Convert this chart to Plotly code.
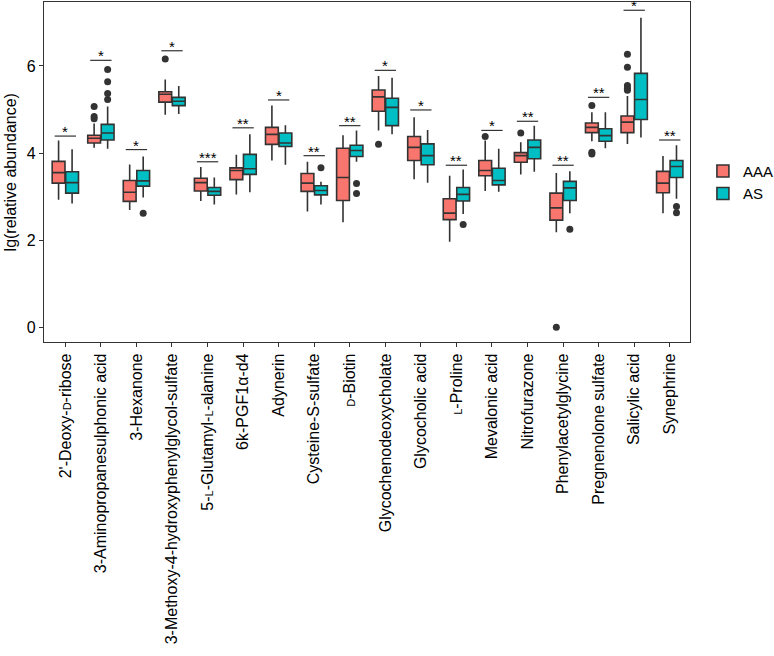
import plotly.graph_objects as go

SC = "<span style='font-size:11px'>{}</span>"
categories = [
    "2'-Deoxy-" + SC.format("D") + "-ribose",
    "3-Aminopropanesulphonic acid",
    "3-Hexanone",
    "3-Methoxy-4-hydroxyphenylglycol-sulfate",
    "5-" + SC.format("L") + "-Glutamyl-" + SC.format("L") + "-alanine",
    "6k-PGF1α-d4",
    "Adynerin",
    "Cysteine-S-sulfate",
    SC.format("D") + "-Biotin",
    "Glycochenodeoxycholate",
    "Glycocholic acid",
    SC.format("L") + "-Proline",
    "Mevalonic acid",
    "Nitrofurazone",
    "Phenylacetylglycine",
    "Pregnenolone sulfate",
    "Salicylic acid",
    "Synephrine",
]

# AAA group box statistics
aaa_low = [2.93, 4.12, 2.69, 4.88, 2.90, 3.05, 3.83, 2.66, 2.41, 4.52, 3.40, 1.96, 3.13, 3.51, 2.18, 4.27, 4.21, 2.62]
aaa_q1 = [3.31, 4.23, 2.89, 5.17, 3.13, 3.39, 4.20, 3.12, 2.91, 4.96, 3.83, 2.47, 3.48, 3.79, 2.46, 4.47, 4.47, 3.09]
aaa_med = [3.55, 4.34, 3.10, 5.35, 3.32, 3.60, 4.43, 3.31, 3.44, 5.29, 4.13, 2.62, 3.60, 3.94, 2.74, 4.59, 4.71, 3.31]
aaa_q3 = [3.81, 4.41, 3.37, 5.41, 3.42, 3.66, 4.59, 3.53, 4.11, 5.45, 4.38, 2.95, 3.83, 4.01, 3.08, 4.69, 4.85, 3.58]
aaa_high = [4.29, 4.68, 3.74, 5.69, 3.68, 3.96, 5.09, 3.80, 4.41, 5.77, 4.82, 3.48, 4.29, 4.25, 3.54, 4.94, 5.31, 3.93]

# AS group box statistics
as_low = [2.84, 4.10, 2.98, 4.90, 2.82, 3.10, 3.73, 2.82, 3.80, 4.43, 3.32, 2.60, 3.11, 3.57, 2.62, 4.11, 4.36, 2.95]
as_q1 = [3.08, 4.30, 3.24, 5.09, 3.03, 3.51, 4.15, 3.04, 3.92, 4.63, 3.73, 2.90, 3.27, 3.87, 2.91, 4.27, 4.77, 3.44]
as_med = [3.32, 4.46, 3.36, 5.19, 3.12, 3.64, 4.23, 3.14, 4.06, 5.05, 3.94, 3.05, 3.37, 4.13, 3.20, 4.40, 5.23, 3.69]
as_q3 = [3.57, 4.66, 3.60, 5.28, 3.21, 3.97, 4.46, 3.25, 4.18, 5.26, 4.21, 3.21, 3.65, 4.30, 3.35, 4.56, 5.83, 3.83]
as_high = [4.09, 5.07, 3.92, 5.54, 3.44, 4.43, 4.64, 3.34, 4.52, 5.73, 4.53, 3.62, 4.10, 4.63, 3.58, 4.94, 7.11, 4.18]

# outliers (category index, value)
aaa_out_cat = [1, 1, 1, 3, 9, 12, 13, 14, 15, 15, 15, 16, 16, 16, 16, 16]
aaa_out_val = [5.07, 4.84, 4.79, 6.16, 4.20, 4.38, 4.46, 0.0, 5.09, 4.02, 3.98, 6.27, 5.97, 5.55, 5.49, 5.44]
as_out_cat = [1, 1, 1, 1, 2, 7, 8, 8, 11, 14, 17, 17]
as_out_val = [5.92, 5.64, 5.37, 5.23, 2.62, 3.66, 3.30, 3.07, 2.36, 2.25, 2.77, 2.63]

# significance brackets
sig_y = [4.39, 6.13, 4.08, 6.35, 3.80, 4.58, 5.22, 3.94, 4.63, 5.90, 4.99, 3.72, 4.52, 4.73, 3.72, 5.28, 7.28, 4.30]
sig_label = ["*", "*", "*", "*", "***", "**", "*", "**", "**", "*", "*", "**", "*", "**", "**", "**", "*", "**"]

y_ticks = [0, 2, 4, 6]

RED = "#F8766D"
CYAN = "#00BFC4"
DARK = "#333333"
DODGE = 0.19
FONT = "Liberation Sans, Arial, sans-serif"

idx = list(range(len(categories)))
fig = go.Figure()

fig.add_trace(go.Box(
    name="AAA", x=[i - DODGE for i in idx],
    q1=aaa_q1, median=aaa_med, q3=aaa_q3, lowerfence=aaa_low, upperfence=aaa_high,
    width=0.36, fillcolor=RED, line=dict(color=DARK, width=1.6),
    boxpoints=False, whiskerwidth=0, legendgroup="AAA",
))
fig.add_trace(go.Box(
    name="AS", x=[i + DODGE for i in idx],
    q1=as_q1, median=as_med, q3=as_q3, lowerfence=as_low, upperfence=as_high,
    width=0.36, fillcolor=CYAN, line=dict(color=DARK, width=1.6),
    boxpoints=False, whiskerwidth=0, legendgroup="AS",
))
fig.add_trace(go.Scatter(
    x=[c - DODGE for c in aaa_out_cat], y=aaa_out_val, mode="markers",
    marker=dict(color=DARK, size=7), showlegend=False, hoverinfo="skip",
))
fig.add_trace(go.Scatter(
    x=[c + DODGE for c in as_out_cat], y=as_out_val, mode="markers",
    marker=dict(color=DARK, size=7), showlegend=False, hoverinfo="skip",
))

for i, (yv, lab) in enumerate(zip(sig_y, sig_label)):
    fig.add_shape(type="line", x0=i - 0.3, x1=i + 0.3, y0=yv, y1=yv,
                  line=dict(color=DARK, width=1.2))
    fig.add_annotation(x=i, y=yv, text=lab, showarrow=False, yanchor="bottom",
                       yshift=-6, font=dict(size=15, color="black", family=FONT))

fig.add_annotation(x=-0.052, y=0.5, xref="paper", yref="paper", text="lg(relative abundance)",
                   textangle=-90, showarrow=False, xanchor="center", yanchor="middle",
                   font=dict(size=16, color="black", family=FONT))

fig.update_xaxes(
    range=[-0.6, 17.57], tickmode="array", tickvals=idx, ticktext=categories,
    tickangle=-90, ticks="outside", ticklen=4, tickcolor=DARK, showgrid=False, zeroline=False,
    showline=True, linecolor=DARK, linewidth=1.2, mirror=True,
    tickfont=dict(size=16, color="black", family=FONT),
)
fig.update_yaxes(
    range=[-0.34, 7.47], tickmode="array", tickvals=y_ticks, ticktext=[str(t) for t in y_ticks],
    ticks="outside", ticklen=4, tickcolor=DARK, showgrid=False, zeroline=False,
    showline=True, linecolor=DARK, linewidth=1.2, mirror=True,
    tickfont=dict(size=16, color="black", family=FONT),
)
fig.update_layout(
    width=774, height=656,
    margin=dict(l=44, r=84, t=2, b=314, autoexpand=False),
    plot_bgcolor="white", paper_bgcolor="white",
    boxmode="overlay",
    legend=dict(x=1.02, y=0.47, xanchor="left", yanchor="middle",
                font=dict(size=15, color="black", family=FONT), tracegroupgap=0),
    font=dict(family=FONT),
)

fig.write_html("out.html", config={"displayModeBar": False},
               post_script="document.body.style.margin='0px';document.body.style.overflow='hidden';")
